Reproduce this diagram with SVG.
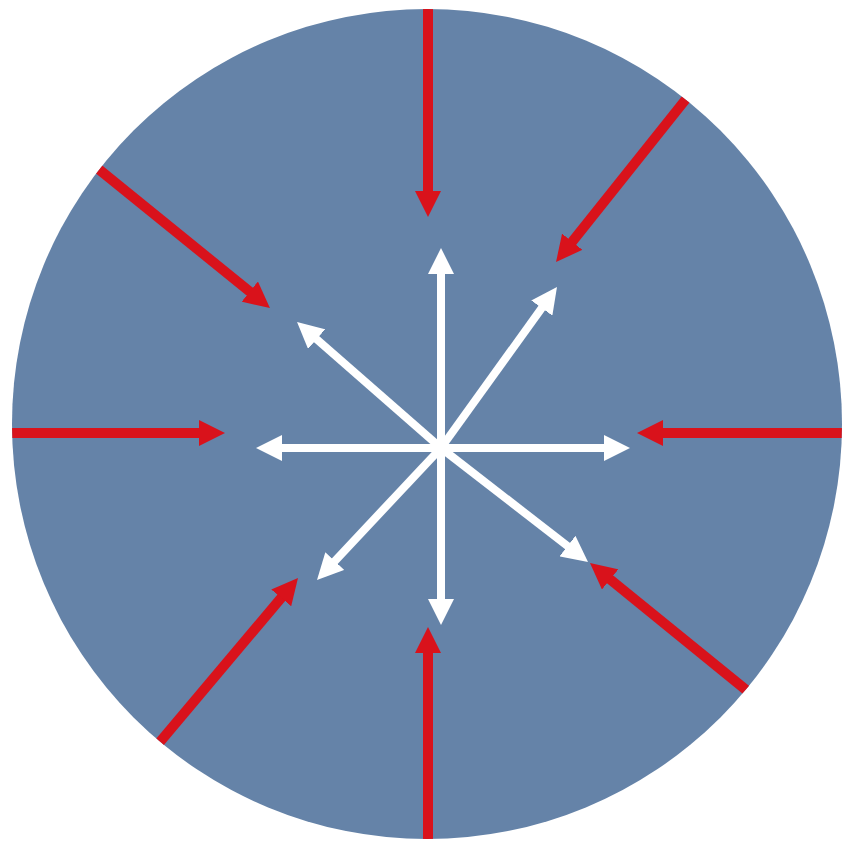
<svg xmlns="http://www.w3.org/2000/svg" width="842" height="843" viewBox="0 0 842 843">
  <defs>
    <clipPath id="disc"><circle cx="427" cy="424" r="415"/></clipPath>
    <marker id="headRed" markerUnits="userSpaceOnUse" markerWidth="26" markerHeight="26" viewBox="0 0 26 26" refX="6" refY="13" orient="auto">
      <path d="M0,0 L26,13 L0,26 z" fill="#D9121B"/>
    </marker>
    <marker id="headWhite" markerUnits="userSpaceOnUse" markerWidth="26" markerHeight="26" viewBox="0 0 26 26" refX="6" refY="13" orient="auto">
      <path d="M0,0 L26,13 L0,26 z" fill="#FFFFFF"/>
    </marker>
  </defs>
  <style>
    .red { stroke: #D9121B; stroke-width: 10; fill: none; marker-end: url(#headRed); }
    .white { stroke: #FFFFFF; stroke-width: 8; fill: none; marker-end: url(#headWhite); }
  </style>
  <rect width="842" height="843" fill="#FFFFFF"/>
  <g id="disc-node">
    <circle cx="427" cy="424" r="415" fill="#6583A8"/>
  </g>
  <g id="connectors">
    <g id="inward" clip-path="url(#disc)">
      <line class="red" x1="428" y1="0" x2="428" y2="197"/>
      <line class="red" x1="694" y1="89" x2="568.5" y2="246.4"/>
      <line class="red" x1="850" y1="433" x2="657" y2="433"/>
      <line class="red" x1="756" y1="698" x2="605.5" y2="575.6"/>
      <line class="red" x1="428" y1="850" x2="428" y2="647"/>
      <line class="red" x1="154" y1="749" x2="285.1" y2="593.3"/>
      <line class="red" x1="0" y1="433" x2="205" y2="433"/>
      <line class="red" x1="96" y1="167" x2="254.4" y2="295.4"/>
    </g>
    <g id="outward">
      <line class="white" x1="441" y1="448" x2="441" y2="268"/>
      <line class="white" x1="441" y1="448" x2="441" y2="605"/>
      <line class="white" x1="441" y1="448" x2="276" y2="448"/>
      <line class="white" x1="441" y1="448" x2="610" y2="448"/>
      <line class="white" x1="441" y1="448" x2="545.3" y2="303.2"/>
      <line class="white" x1="441" y1="448" x2="312.1" y2="335.2"/>
      <line class="white" x1="441" y1="448" x2="330.7" y2="565.4"/>
      <line class="white" x1="441" y1="448" x2="572.2" y2="549.7"/>
    </g>
  </g>
</svg>
